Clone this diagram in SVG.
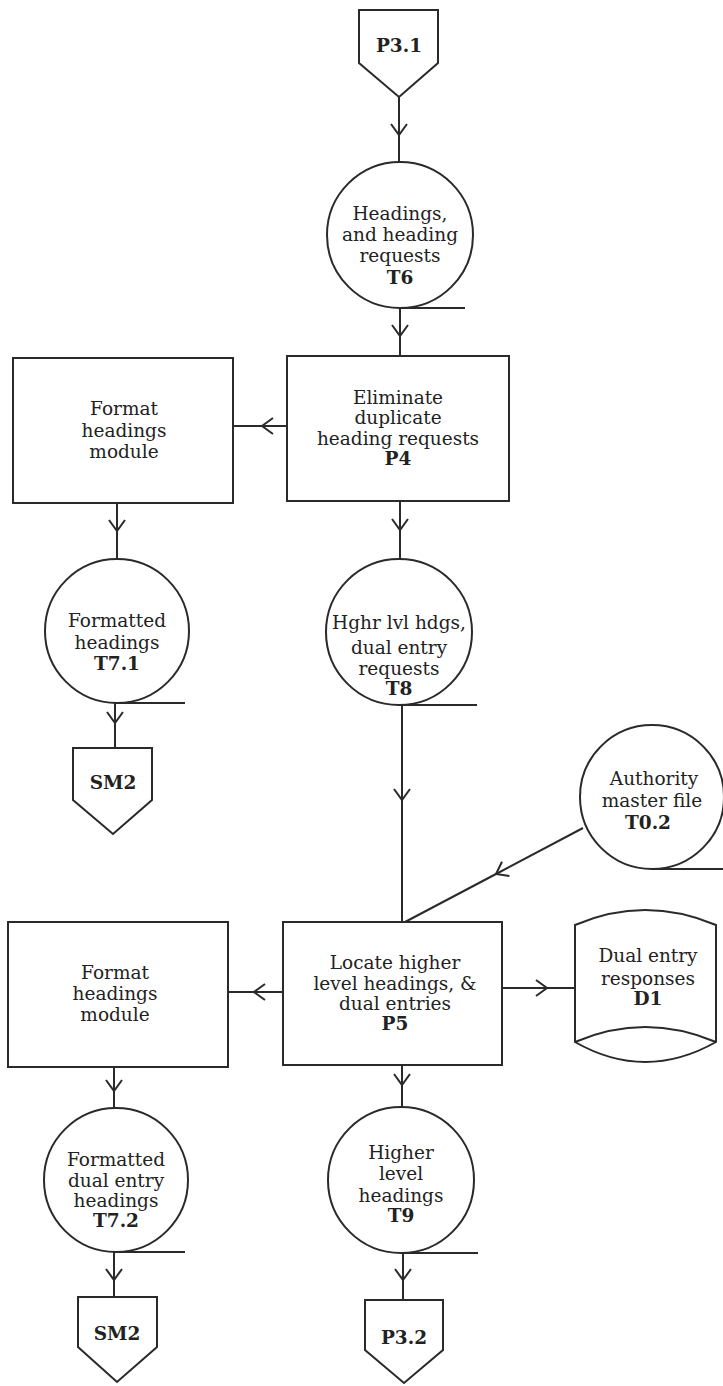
<svg xmlns="http://www.w3.org/2000/svg" width="723" height="1386" viewBox="0 0 723 1386">
<style>
.s{fill:#fff;stroke:#2a2a2a;stroke-width:2}
.c{fill:none;stroke:#2a2a2a;stroke-width:2}
.t{font-family:"DejaVu Serif","Liberation Serif",serif;font-size:18.5px;fill:#222;text-anchor:middle}
.b{font-weight:bold}
</style>
<defs>
<marker id="v" markerUnits="userSpaceOnUse" markerWidth="24" markerHeight="24" viewBox="-14 -12 16 24" refX="0" refY="0" orient="auto">
<path d="M-11,-8 L0,0 L-11,8" fill="none" stroke="#2a2a2a" stroke-width="2"/>
</marker>
</defs>
<rect width="723" height="1386" fill="#fff"/>
<g id="connectors" class="c">
<path marker-mid="url(#v)" d="M399,97 L399,135 L399,162"/>
<path marker-mid="url(#v)" d="M400,308 L400,336 L400,356"/>
<path marker-mid="url(#v)" d="M287,426 L262,426 L233,426"/>
<path marker-mid="url(#v)" d="M117,503 L117,531 L117,559"/>
<path marker-mid="url(#v)" d="M115,703 L115,723 L115,748"/>
<path marker-mid="url(#v)" d="M400,501 L400,530 L400,559"/>
<path marker-mid="url(#v)" d="M402,705 L402,800 L402,922"/>
<path marker-mid="url(#v)" d="M583,828 L496,874 L405,922"/>
<path marker-mid="url(#v)" d="M502,988 L547,988 L575,988"/>
<path marker-mid="url(#v)" d="M283,992 L254,992 L228,992"/>
<path marker-mid="url(#v)" d="M114,1067 L114,1091 L114,1108"/>
<path marker-mid="url(#v)" d="M114,1252 L114,1280 L114,1297"/>
<path marker-mid="url(#v)" d="M402,1065 L402,1085 L402,1107"/>
<path marker-mid="url(#v)" d="M403,1253 L403,1280 L403,1300"/>
</g>
<g id="P3.1">
<polygon class="s" points="359,10 438,10 438,63 399,97 359,63"/>
<text class="t b" x="399" y="52">P3.1</text>
</g>
<g id="T6">
<circle class="s" cx="400" cy="235" r="73"/>
<line class="c" x1="400" y1="308" x2="465" y2="308"/>
<text class="t" x="400" y="220">Headings,</text>
<text class="t" x="400" y="241">and heading</text>
<text class="t" x="400" y="262">requests</text>
<text class="t b" x="400" y="284">T6</text>
</g>
<g id="P4">
<rect class="s" x="287" y="356" width="222" height="145"/>
<text class="t" x="398" y="404">Eliminate</text>
<text class="t" x="398" y="424">duplicate</text>
<text class="t" x="398" y="445">heading requests</text>
<text class="t b" x="398" y="465">P4</text>
</g>
<g id="Format1">
<rect class="s" x="13" y="358" width="220" height="145"/>
<text class="t" x="124" y="415">Format</text>
<text class="t" x="124" y="437">headings</text>
<text class="t" x="124" y="458">module</text>
</g>
<g id="T7.1">
<circle class="s" cx="117" cy="631" r="72"/>
<line class="c" x1="117" y1="703" x2="185" y2="703"/>
<text class="t" x="117" y="627">Formatted</text>
<text class="t" x="117" y="649">headings</text>
<text class="t b" x="117" y="670">T7.1</text>
</g>
<g id="SM2a">
<polygon class="s" points="73,748 152,748 152,800 113,834 73,800"/>
<text class="t b" x="113" y="789">SM2</text>
</g>
<g id="T8">
<circle class="s" cx="399" cy="632" r="73"/>
<line class="c" x1="399" y1="705" x2="477" y2="705"/>
<text class="t" x="399" y="629">Hghr lvl hdgs,</text>
<text class="t" x="399" y="654">dual entry</text>
<text class="t" x="399" y="675">requests</text>
<text class="t b" x="399" y="695">T8</text>
</g>
<g id="T0.2">
<circle class="s" cx="652" cy="797" r="72"/>
<line class="c" x1="652" y1="869" x2="723" y2="869"/>
<text class="t" x="654" y="785">Authority</text>
<text class="t" x="652" y="807">master file</text>
<text class="t b" x="648" y="829">T0.2</text>
</g>
<g id="P5">
<rect class="s" x="283" y="922" width="219" height="143"/>
<text class="t" x="395" y="969">Locate higher</text>
<text class="t" x="395" y="990">level headings, &amp;</text>
<text class="t" x="395" y="1010">dual entries</text>
<text class="t b" x="395" y="1030">P5</text>
</g>
<g id="D1">
<path class="s" d="M575,925 Q645,895 716,925 L716,1042 Q645,1082 575,1042 Z"/>
<path class="c" d="M575,1042 Q645,1012 716,1042"/>
<text class="t" x="648" y="962">Dual entry</text>
<text class="t" x="648" y="985">responses</text>
<text class="t b" x="648" y="1005">D1</text>
</g>
<g id="Format2">
<rect class="s" x="8" y="922" width="220" height="145"/>
<text class="t" x="115" y="979">Format</text>
<text class="t" x="115" y="1000">headings</text>
<text class="t" x="115" y="1021">module</text>
</g>
<g id="T7.2">
<circle class="s" cx="116" cy="1180" r="72"/>
<line class="c" x1="116" y1="1252" x2="185" y2="1252"/>
<text class="t" x="116" y="1166">Formatted</text>
<text class="t" x="116" y="1187">dual entry</text>
<text class="t" x="116" y="1207">headings</text>
<text class="t b" x="116" y="1227">T7.2</text>
</g>
<g id="SM2b">
<polygon class="s" points="78,1297 157,1297 157,1347 117,1382 78,1347"/>
<text class="t b" x="117" y="1340">SM2</text>
</g>
<g id="T9">
<circle class="s" cx="401" cy="1180" r="73"/>
<line class="c" x1="401" y1="1253" x2="478" y2="1253"/>
<text class="t" x="401" y="1159">Higher</text>
<text class="t" x="401" y="1180">level</text>
<text class="t" x="401" y="1202">headings</text>
<text class="t b" x="401" y="1222">T9</text>
</g>
<g id="P3.2">
<polygon class="s" points="365,1300 443,1300 443,1350 404,1383 365,1350"/>
<text class="t b" x="404" y="1344">P3.2</text>
</g>
</svg>
